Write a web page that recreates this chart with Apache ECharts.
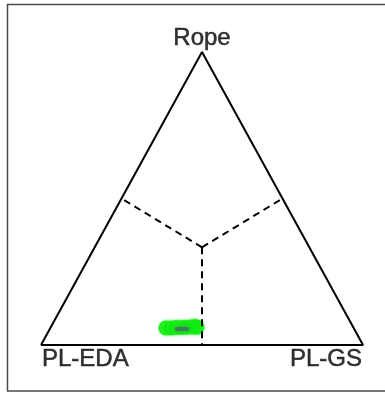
<!DOCTYPE html>
<html>
<head>
<meta charset="utf-8">
<script src="https://cdn.jsdelivr.net/npm/echarts@6/dist/echarts.min.js"></script>
<style>
  html, body { margin: 0; padding: 0; background: #fff; }
  #chart { width: 385px; height: 395px; }
</style>
</head>
<body>
<div id="chart"></div>
<script>
// component names, one per vertex (left, right, top)
const vertexNames = ["PL-EDA", "PL-GS", "Rope"];

// sample compositions (fractions, sum to 1)
const plEda = [0.583, 0.567, 0.551, 0.535, 0.519, 0.503, 0.490, 0.485];
const plGs  = [0.359, 0.375, 0.389, 0.405, 0.420, 0.435, 0.447, 0.454];
const rope  = [0.058, 0.058, 0.060, 0.060, 0.061, 0.061, 0.063, 0.061];

// densest spot of the cloud
const modeComp = [0.535, 0.411, 0.055];

// ternary frame: vertices, centre and edge midpoints
const vertices = [[1, 0, 0], [0, 1, 0], [0, 0, 1]];
const centre = [1 / 3, 1 / 3, 1 / 3];
const midpoints = [[0.5, 0.5, 0], [0.5, 0, 0.5], [0, 0.5, 0.5]];

// composition -> plot coordinates (x across, y up to the top vertex)
function toXY(p) {
	const s = p[0] + p[1] + p[2];
	const b = p[1] / s, c = p[2] / s;
	return [b + c / 2, c];
}

const samples = plEda.map((a, i) => toXY([a, plGs[i], rope[i]]));

const outline = vertices.concat([vertices[0]]).map(toXY);
const guides = [];
midpoints.forEach(m => {
	guides.push(toXY(centre), toXY(m), null);
});

const chart = echarts.init(document.getElementById("chart"));
chart.setOption({
	animation: false,
	grid: { left: 41, top: 52, width: 322, height: 293 },
	xAxis: { type: "value", min: 0, max: 1, show: false },
	yAxis: { type: "value", min: 0, max: 1, show: false },
	graphic: [{
		type: "rect",
		shape: { x: 7.5, y: 4.5, width: 390, height: 386.5 },
		style: { fill: "none", stroke: "#4a4a4a", lineWidth: 1.5 },
		silent: true
	}],
	series: [
		{
			type: "scatter",
			name: "samples",
			data: samples,
			symbol: "circle",
			symbolSize: 15,
			itemStyle: {
				color: "#08ec08",
				shadowBlur: 3,
				shadowColor: "rgba(70,235,70,0.9)"
			},
			z: 2
		},
		{
			type: "scatter",
			name: "mode",
			data: [toXY(modeComp)],
			symbol: "roundRect",
			symbolSize: [14, 4],
			itemStyle: {
				color: "#44705f",
				shadowBlur: 4,
				shadowColor: "#3a8a5a"
			},
			z: 3
		},
		{
			type: "line",
			name: "guides",
			data: guides,
			connectNulls: false,
			showSymbol: false,
			symbol: "none",
			lineStyle: { color: "#000", width: 2, type: [7, 5] },
			z: 4
		},
		{
			type: "line",
			name: "frame",
			data: outline,
			symbol: "none",
			lineStyle: { color: "#000", width: 2 },
			z: 5
		},
		{
			type: "scatter",
			name: "vertexLabels",
			symbolSize: 1,
			itemStyle: { color: "rgba(0,0,0,0)" },
			silent: true,
			label: {
				show: true,
				fontFamily: "Liberation Sans",
				fontSize: 24,
				color: "#000",
				textBorderColor: "#000",
				textBorderWidth: 0.5,
				formatter: p => p.name
			},
			data: [
				{ name: vertexNames[0], value: toXY(vertices[0]), label: { position: "bottom", align: "left", distance: 2, offset: [1, 0] } },
				{ name: vertexNames[1], value: toXY(vertices[1]), label: { position: "bottom", align: "right", distance: 2, offset: [-1, 0] } },
				{ name: vertexNames[2], value: toXY(vertices[2]), label: { position: "top", distance: 1 } }
			],
			z: 6
		}
	]
});
</script>
</body>
</html>
